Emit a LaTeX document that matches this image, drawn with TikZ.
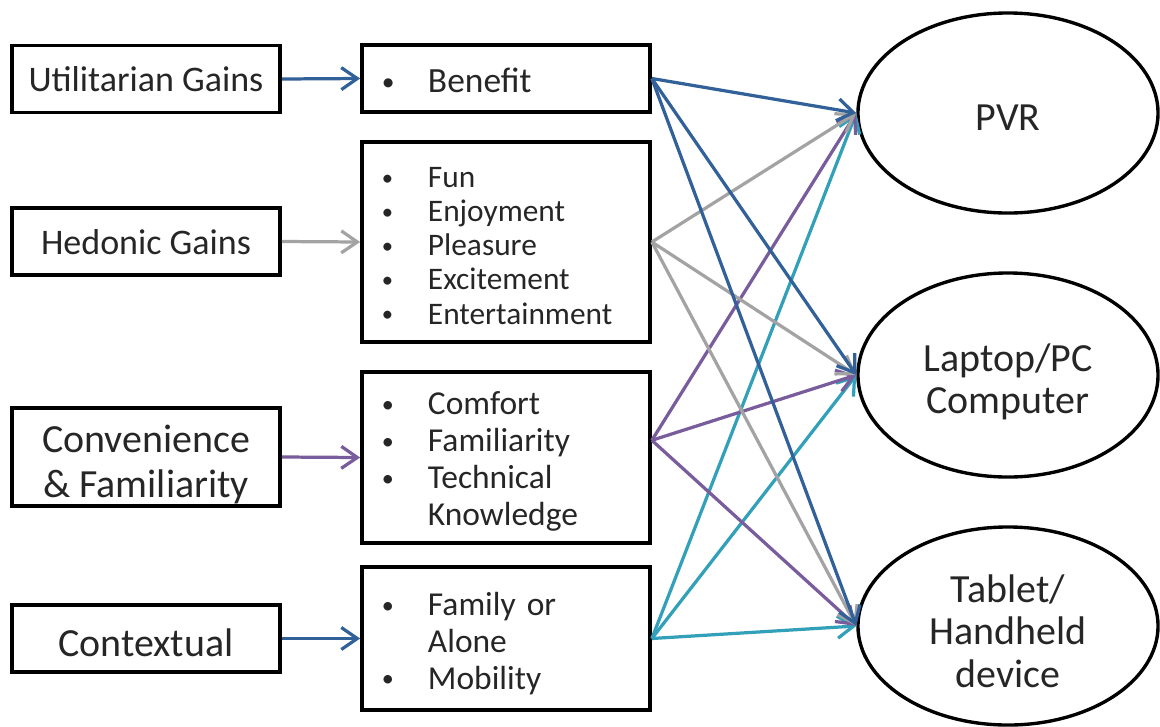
\documentclass[tikz,border=0pt]{standalone}
\usepackage{fontspec}
\setmainfont{Carlito}
\usepackage{xcolor}
\usetikzlibrary{arrows.meta}
\usetikzlibrary{shapes.geometric}
\usetikzlibrary{positioning}
\definecolor{linkblue}{RGB}{50,96,152}
\definecolor{linkgrey}{RGB}{163,163,163}
\definecolor{linkpurple}{RGB}{120,92,155}
\definecolor{linkteal}{RGB}{50,160,185}
\newcommand{\bul}{\makebox[1.15cm][l]{\raisebox{1.5pt}{\scalebox{0.72}{\textbullet}}}}
\newcommand{\ind}{\makebox[1.15cm][l]{}}

\begin{document}
\begin{tikzpicture}[x=0.025cm, y=-0.025cm, every node/.style={text=black!85},
	gainbox/.style={draw=black, line width=2.6pt, minimum width=6.7cm, minimum height=1.675cm, align=center, inner sep=0pt, text depth=0pt},
	listbox/.style={draw=black, line width=2.6pt, minimum width=7.2cm, text width=6.2cm, inner xsep=0.5cm, inner ysep=0pt, align=left},
	device/.style={draw=black, ellipse, line width=2.4pt, minimum width=7.5cm, minimum height=5cm, inner sep=0pt, align=center, text depth=0pt, font=\fontsize{28.4}{30}\selectfont},
	link/.style={line width=2.3pt, -{Straight Barb[length=4mm, width=5.5mm, line width=2.3pt]}}]
					\useasboundingbox (0,0) rectangle (1160,726);
					%gains
					\node[gainbox, font=\fontsize{25.6}{30}\selectfont] (util) at (146,79) {Utilitarian Gains};
					\node[gainbox, font=\fontsize{25.6}{30}\selectfont] (hedonic) at (146,241.5) {Hedonic Gains};
					\node[gainbox, minimum height=2.45cm, text height=57.5pt, font=\fontsize{28.4}{32}\selectfont] (conv) at (146,457) {Convenience\\ \& Familiarity};
					\node[gainbox, text height=25.6pt, font=\fontsize{28.4}{32}\selectfont] (context) at (146,638.5) {Contextual};
					%lists
					\node[listbox, minimum height=1.675cm, text height=20.4pt, font=\fontsize{25.2}{28}\selectfont] (benefit) at (506,78.5) {\bul Benefit};
					\node[listbox, minimum height=5cm, text height=20pt, font=\fontsize{22.3}{24.2}\selectfont] (hedlist) at (506,242) {\bul Fun\\ \bul Enjoyment\\ \bul Pleasure\\ \bul Excitement\\ \bul Entertainment};
					\node[listbox, minimum height=4.275cm, text height=22.4pt, font=\fontsize{23.8}{26.3}\selectfont] (convlist) at (506,457.5) {\bul Comfort\\ \bul Familiarity\\ \bul Technical\\ \ind Knowledge};
					\node[listbox, minimum height=3.575cm, text height=23.7pt, font=\fontsize{23.8}{26}\selectfont] (ctxlist) at (506,638.5) {\bul Family or\\ \ind Alone\\ \bul Mobility};
					\coordinate (convout) at ([yshift=0.43cm]convlist.east);
					%devices
					\node[device, text height=25pt] (pvr) at (1008,113) {PVR};
					\node[device, minimum height=5.1cm, text height=55pt] (laptop) at (1008,375) {Laptop/PC\\Computer};
					\node[device, minimum height=4.95cm, text height=87pt] (tablet) at (1008,626) {Tablet/\\Handheld\\device};
					%gains to lists
					\draw[link, linkblue] (util.east) -- (benefit.west);
					\draw[link, linkgrey] (hedonic.east) -- (hedlist.west);
					\draw[link, linkpurple] (conv.east) -- (convlist.west);
					\draw[link, linkblue] (context.east) -- (ctxlist.west);
					%lists to devices
					\foreach \src/\col in {ctxlist.east/linkteal, convout/linkpurple, hedlist.east/linkgrey, benefit.east/linkblue}
						\foreach \dev in {pvr,laptop,tablet}
							\draw[link, \col] (\src) -- (\dev.west);
				\end{tikzpicture}
\end{document}
